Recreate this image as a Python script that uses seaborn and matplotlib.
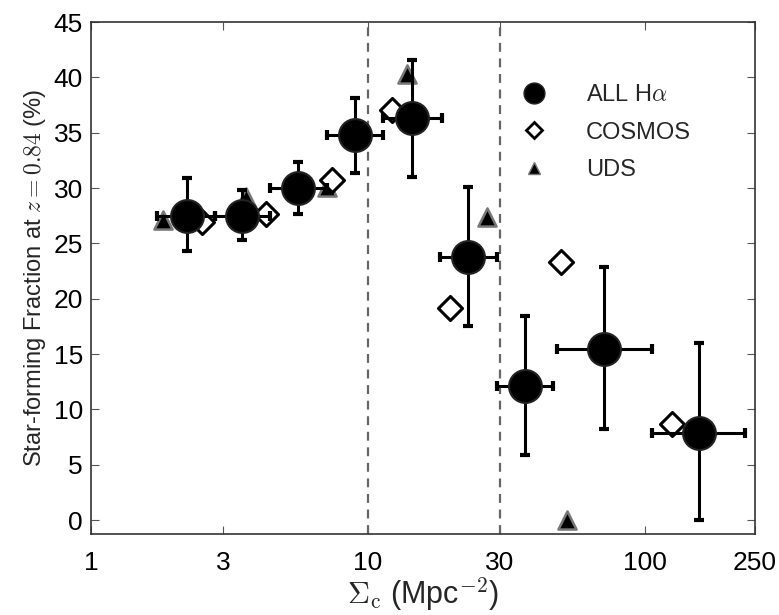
import numpy as np
import pandas as pd
import matplotlib
matplotlib.use("Agg")
import matplotlib.pyplot as plt
import seaborn as sns
from matplotlib.lines import Line2D

# ---- data ----
all_x = [2.22, 3.51, 5.59, 8.97, 14.4, 23.0, 36.9, 71.1, 156.7]
all_y = [27.5, 27.5, 30.0, 34.8, 36.3, 23.8, 12.1, 15.5, 7.9]
all_y_lo = [24.3, 25.3, 27.7, 31.4, 31.0, 17.5, 5.9, 8.2, 0.0]
all_y_hi = [30.9, 29.8, 32.4, 38.1, 41.6, 30.1, 18.4, 22.9, 16.0]
all_x_lo = [1.73, 2.80, 4.43, 7.11, 11.3, 18.2, 29.2, 48.1, 106.0]
all_x_hi = [2.80, 4.43, 7.11, 11.3, 18.5, 29.2, 46.5, 106.0, 231.0]

cosmos_x = [2.52, 4.28, 7.41, 12.2, 19.8, 49.7, 125.0]
cosmos_y = [26.9, 27.7, 30.7, 37.1, 19.2, 23.3, 8.7]

uds_x = [1.82, 3.63, 7.13, 13.8, 26.9, 52.3]
uds_y = [27.1, 29.2, 30.1, 40.3, 27.4, 0.0]

vlines = [10, 30]
xticks = [1, 3, 10, 30, 100, 250]
yticks = [0, 5, 10, 15, 20, 25, 30, 35, 40, 45]

sns.set_style("ticks")
plt.rcParams['font.family'] = ['Liberation Sans', 'DejaVu Sans']
plt.rcParams['mathtext.fontset'] = 'cm'

fig = plt.figure(figsize=(7.79, 6.15), dpi=100)
ax = fig.add_axes([0.117, 0.131, 0.852, 0.833])

df_all = pd.DataFrame({"x": all_x, "y": all_y})
df_cos = pd.DataFrame({"x": cosmos_x, "y": cosmos_y})
df_uds = pd.DataFrame({"x": uds_x, "y": uds_y})

for v in vlines:
    ax.axvline(v, color="#666666", ls=(0, (4, 3)), lw=1.6, zorder=1)

sns.scatterplot(data=df_uds, x="x", y="y", marker="^", s=170, color="black",
                edgecolor="#777777", linewidth=1.8, ax=ax, zorder=2, legend=False)
sns.scatterplot(data=df_cos, x="x", y="y", marker="D", s=150, facecolor="white",
                edgecolor="black", linewidth=2.2, ax=ax, zorder=3, legend=False)

xa = np.array(all_x); ya = np.array(all_y)
yerr = [ya - np.array(all_y_lo), np.array(all_y_hi) - ya]
xerr = [xa - np.array(all_x_lo), np.array(all_x_hi) - xa]
ax.errorbar(xa, ya, yerr=yerr, xerr=xerr, fmt="none", ecolor="black",
            elinewidth=2.2, capsize=3.5, capthick=3, zorder=4)
sns.scatterplot(data=df_all, x="x", y="y", marker="o", s=560, color="black",
                edgecolor="#222222", linewidth=1.5, ax=ax, zorder=5, legend=False)

ax.set_xscale("log")
ax.set_xlim(1, 250)
ax.set_ylim(-1.3, 45)
ax.set_xticks(xticks)
ax.set_xticklabels([str(t) for t in xticks])
ax.minorticks_off()
ax.set_yticks(yticks)
ax.tick_params(direction="in", top=True, right=True, labelsize=19,
               length=6, width=0.8, colors="#555555", labelcolor="black")
ax.tick_params(axis="x", pad=12)
ax.tick_params(axis="y", pad=6)
for s in ax.spines.values():
    s.set_linewidth(1.2)
    s.set_color("#333333")

ax.set_xlabel(r"$\Sigma_{\rm c}$ (Mpc$^{-2}$)", fontsize=22, labelpad=0)
ax.set_ylabel(r"Star-forming Fraction at $z = 0.84$ (%)", fontsize=17, labelpad=4)

handles = [
    Line2D([], [], marker="o", ls="none", markersize=15, color="black",
           markeredgecolor="#222222"),
    Line2D([], [], marker="D", ls="none", markersize=8, markerfacecolor="white",
           markeredgecolor="black", markeredgewidth=2),
    Line2D([], [], marker="^", ls="none", markersize=8, color="black",
           markeredgecolor="#777777"),
]
ax.legend(handles, [r"ALL H$\alpha$", "COSMOS", "UDS"], loc="upper left",
          frameon=False, fontsize=17, bbox_to_anchor=(0.617, 0.897),
          handletextpad=1.2, labelspacing=0.65, borderaxespad=0.0)

fig.savefig("out.png", dpi=100)
